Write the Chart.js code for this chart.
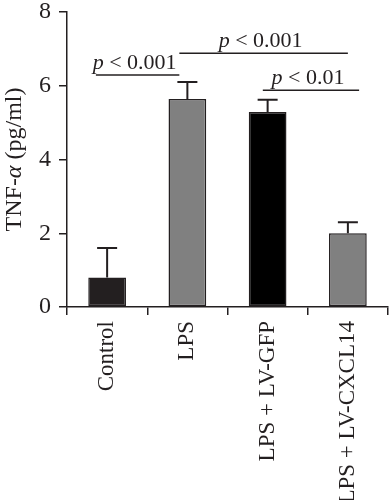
<!DOCTYPE html>
<html>
<head>
<meta charset="utf-8">
<script src="https://cdn.jsdelivr.net/npm/chart.js@4.4.1/dist/chart.umd.min.js"></script>
<style>
  html, body { margin: 0; padding: 0; background: #fff; }
  #wrap { width: 389px; height: 500px; }
</style>
</head>
<body>
<div id="wrap"><canvas id="chart"></canvas></div>
<script>
// data
const groups = ['Control', 'LPS', 'LPS + LV-GFP', 'LPS + LV-CXCL14'];
const tnfMeans = [0.8, 5.64, 5.29, 2.0];
const tnfErrors = [0.8, 0.46, 0.33, 0.3];
const barColors = ['#231f20', '#808080', '#000000', '#808080'];
const yTicks = [0, 2, 4, 6, 8];

// significance brackets: [from index, to index, height, label]
const bracketFrom = [-0.14, 0.9, 1.94];
const bracketTo = [0.9, 3.0, 3.14];
const bracketY = [6.29, 6.88, 5.88];
const bracketText = ['< 0.001', '< 0.001', '< 0.01'];

const FONT = '"Liberation Serif", "Times New Roman", serif';
const INK = '#231f20';

// ------------------------------
// Error bars (upper only) drawn through the scales.
const errorBarPlugin = {
  id: 'errorBarPlugin',
  afterDatasetsDraw: function(chart) {
    const ctx = chart.ctx;
    const yScale = chart.scales.y;
    const meta = chart.getDatasetMeta(0);
    ctx.save();
    ctx.strokeStyle = INK;
    ctx.lineWidth = 2;
    meta.data.forEach(function(bar, i) {
      const top = yScale.getPixelForValue(tnfMeans[i]);
      const errTop = yScale.getPixelForValue(tnfMeans[i] + tnfErrors[i]);
      ctx.beginPath();
      ctx.moveTo(bar.x, top);
      ctx.lineTo(bar.x, errTop);
      ctx.moveTo(bar.x - 10, errTop);
      ctx.lineTo(bar.x + 10, errTop);
      ctx.stroke();
    });
    ctx.restore();
  }
};

// ------------------------------
// Brackets with italic "p" labels, and the y title with italic alpha.
function drawMixed(ctx, parts, cx, y, size) {
  let total = 0;
  parts.forEach(function(p) {
    ctx.font = p[1] + ' ' + size + 'px ' + FONT;
    total += ctx.measureText(p[0]).width;
  });
  let x = cx - total / 2;
  parts.forEach(function(p) {
    ctx.font = p[1] + ' ' + size + 'px ' + FONT;
    ctx.fillText(p[0], x, y);
    x += ctx.measureText(p[0]).width;
  });
}

const annotatePlugin = {
  id: 'annotatePlugin',
  afterDraw: function(chart) {
    const ctx = chart.ctx;
    const xScale = chart.scales.x;
    const yScale = chart.scales.y;
    ctx.save();
    ctx.strokeStyle = INK;
    ctx.fillStyle = INK;
    ctx.lineWidth = 1.5;
    ctx.textAlign = 'left';
    ctx.textBaseline = 'alphabetic';
    for (let i = 0; i < bracketY.length; i++) {
      const x1 = xScale.getPixelForValue(bracketFrom[i]);
      const x2 = xScale.getPixelForValue(bracketTo[i]);
      const y = yScale.getPixelForValue(bracketY[i]);
      ctx.beginPath();
      ctx.moveTo(x1, y);
      ctx.lineTo(x2, y);
      ctx.stroke();
      drawMixed(ctx, [['p', 'italic'], [' ' + bracketText[i], 'normal']], (x1 + x2) / 2 - 3, y - 6, 22);
    }
    // y axis title
    ctx.translate(21, (chart.chartArea.top + chart.chartArea.bottom) / 2);
    ctx.rotate(-Math.PI / 2);
    drawMixed(ctx, [['TNF-', 'normal'], ['\u03b1', 'italic'], [' (pg/ml)', 'normal']], 0, 0, 24);
    ctx.restore();
  }
};

const ctx = document.getElementById('chart').getContext('2d');
new Chart(ctx, {
  type: 'bar',
  data: {
    labels: groups,
    datasets: [{
      data: tnfMeans,
      backgroundColor: barColors,
      borderColor: INK,
      borderWidth: 1.5,
      borderSkipped: false,
      barPercentage: 0.47,
      categoryPercentage: 1
    }]
  },
  plugins: [errorBarPlugin, annotatePlugin],
  options: {
    responsive: true,
    maintainAspectRatio: false,
    animation: false,
    layout: { padding: { top: 12, right: 1, left: 0, bottom: 0 } },
    plugins: {
      legend: { display: false },
      tooltip: { enabled: false }
    },
    scales: {
      x: {
        grid: { drawOnChartArea: false, tickLength: 8, color: INK, lineWidth: 1.5 },
        border: { color: INK, width: 1.5 },
        ticks: {
          color: INK,
          font: { family: FONT, size: 23 },
          minRotation: 90,
          maxRotation: 90,
          padding: 6,
          autoSkip: false
        },
        afterFit: function(scale) {
          scale.height = 193;
          scale.paddingLeft = 0;
          scale.paddingRight = 0;
        }
      },
      y: {
        min: 0,
        max: 8,
        afterBuildTicks: function(scale) {
          scale.ticks = yTicks.map(v => ({ value: v }));
        },
        grid: { drawOnChartArea: false, tickLength: 8, color: INK, lineWidth: 1.5 },
        border: { color: INK, width: 1.5 },
        ticks: {
          color: INK,
          font: { family: FONT, size: 24 },
          padding: 8
        },
        afterFit: function(scale) {
          scale.width = 67;
          scale.paddingTop = 0;
          scale.paddingBottom = 0;
        }
      }
    }
  }
});
</script>
</body>
</html>
